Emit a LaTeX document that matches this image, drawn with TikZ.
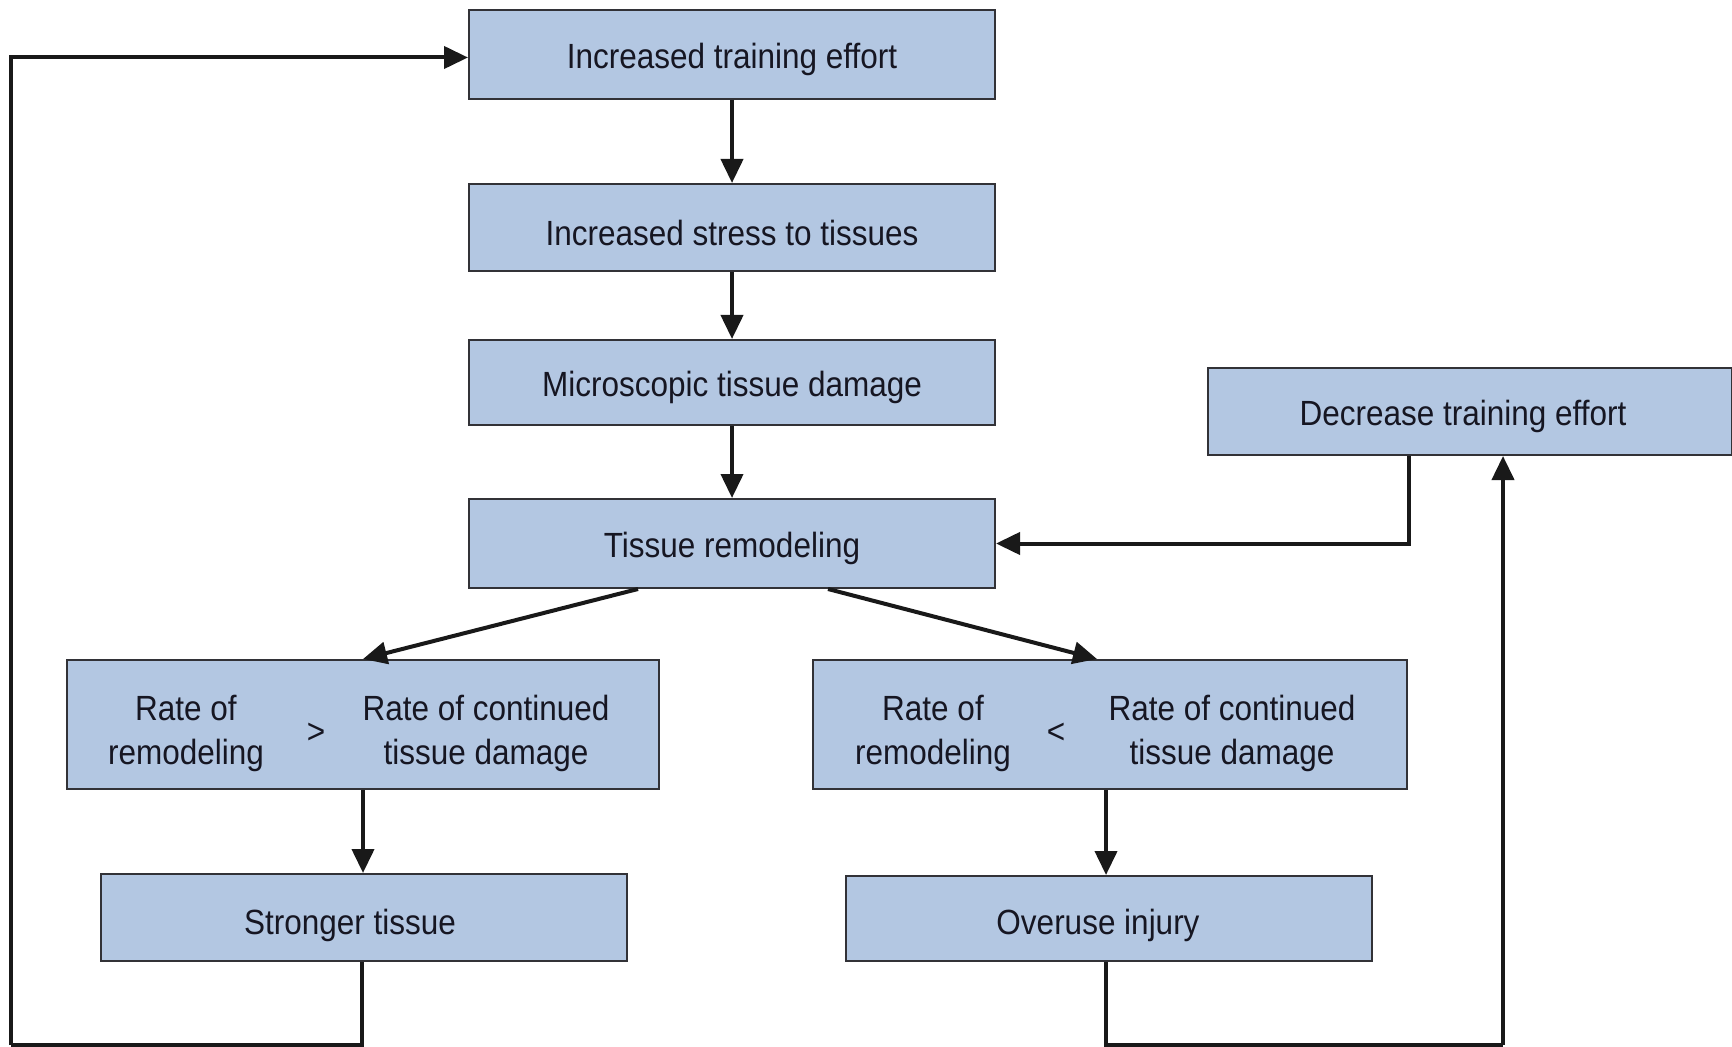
\documentclass[tikz,border=0pt]{standalone}
\usepackage{fontspec}
\setmainfont{Liberation Sans}[FakeStretch=0.9]
\usepackage{tikz}
\usetikzlibrary{arrows.meta,calc}
\definecolor{boxblue}{RGB}{179,199,226}
\definecolor{boxline}{RGB}{50,50,55}
\definecolor{txtcol}{RGB}{22,22,34}
\tikzset{
    box/.style={draw=boxline, fill=boxblue, line width=1pt, inner sep=0pt,
        minimum width=263pt, minimum height=44pt},
    txt/.style={align=center, inner sep=0pt, text=txtcol, yshift=-2.5pt,
        font=\fontsize{17.5}{22}\selectfont},
    arr/.style={-{Triangle[length=12pt,width=11pt]}, line width=2pt, color=black!90},
    lin/.style={line width=1.8pt, color=black!90}
}

\begin{document}
\begin{tikzpicture}[x=0.5pt, y=-0.5pt]
            \useasboundingbox (0,0) rectangle (1732,1047);
            % Kaesten.
            \node[box, minimum height=44.5pt] (inc) at (732,54.5) {};
            \node[box, minimum height=43.5pt] (stress) at (732,227.5) {};
            \node[box, minimum height=42.5pt] (micro) at (732,382.5) {};
            \node[box, minimum height=44.5pt] (remod) at (732,543.5) {};
            \node[box, minimum width=262pt, minimum height=43.5pt] (dec) at (1469.5,411.5) {};
            \node[box, minimum width=296pt, minimum height=64.5pt] (leftrate) at (363,724.5) {};
            \node[box, minimum width=297pt, minimum height=64.5pt] (rightrate) at (1110,724.5) {};
            \node[box, minimum height=43.5pt] (strong) at (363.5,917.5) {};
            \node[box, minimum height=42.5pt] (overuse) at (1108.5,918.5) {};

            % Beschriftung.
            \node[txt] (incT) at (inc) {Increased training effort};
            \node[txt] (stressT) at (stress) {Increased stress to tissues};
            \node[txt] (microT) at (micro) {Microscopic tissue damage};
            \node[txt] (remodT) at (remod) {Tissue remodeling};
            \node[txt] (decT) at (1463,411.5) {Decrease training effort};
            \node[txt] (leftA) at (186,728) {Rate of\\remodeling};
            \node[txt] (leftGt) at (316,728) {>};
            \node[txt] (leftB) at (486,728) {Rate of continued\\tissue damage};
            \node[txt] (rightA) at (933,728) {Rate of\\remodeling};
            \node[txt] (rightLt) at (1056,728) {<};
            \node[txt] (rightB) at (1232,728) {Rate of continued\\tissue damage};
            \node[txt] (strongT) at (350,920) {Stronger tissue};
            \node[txt] (overuseT) at (1098,920) {Overuse injury};

            % Pfeile.
            \coordinate (rrOut) at ($(rightrate.south)+(-4,0)$);
            \draw[arr] (inc) -- (stress);
            \draw[arr] (stress) -- (micro);
            \draw[arr] (micro) -- (remod);
            \draw[arr] ($(remod.south)+(-94,0)$) -- (leftrate.north);
            \draw[arr] ($(remod.south)+(96,0)$) -- ($(rightrate.north)+(-13,0)$);
            \draw[arr] (leftrate.south) -- (leftrate.south |- strong.north);
            \draw[arr] (rrOut) -- (rrOut |- overuse.north);
            \draw[arr] ($(dec.south)+(-60.5,0)$) |- (remod.east);

            % Rueckfuehrungen.
            \coordinate (loopL) at (11,1045);
            \coordinate (loopR) at (1503,1045);
            \coordinate (incIn) at ($(inc.west)+(0,3)$);
            \draw[lin] ($(strong.south)+(-1.5,0)$) |- (loopL);
            \draw[arr] (loopL) |- (incIn);
            \draw[lin] ($(overuse.south)+(-2.5,0)$) |- (loopR);
            \draw[arr] (loopR) -- (loopR |- dec.south);
        \end{tikzpicture}
\end{document}
